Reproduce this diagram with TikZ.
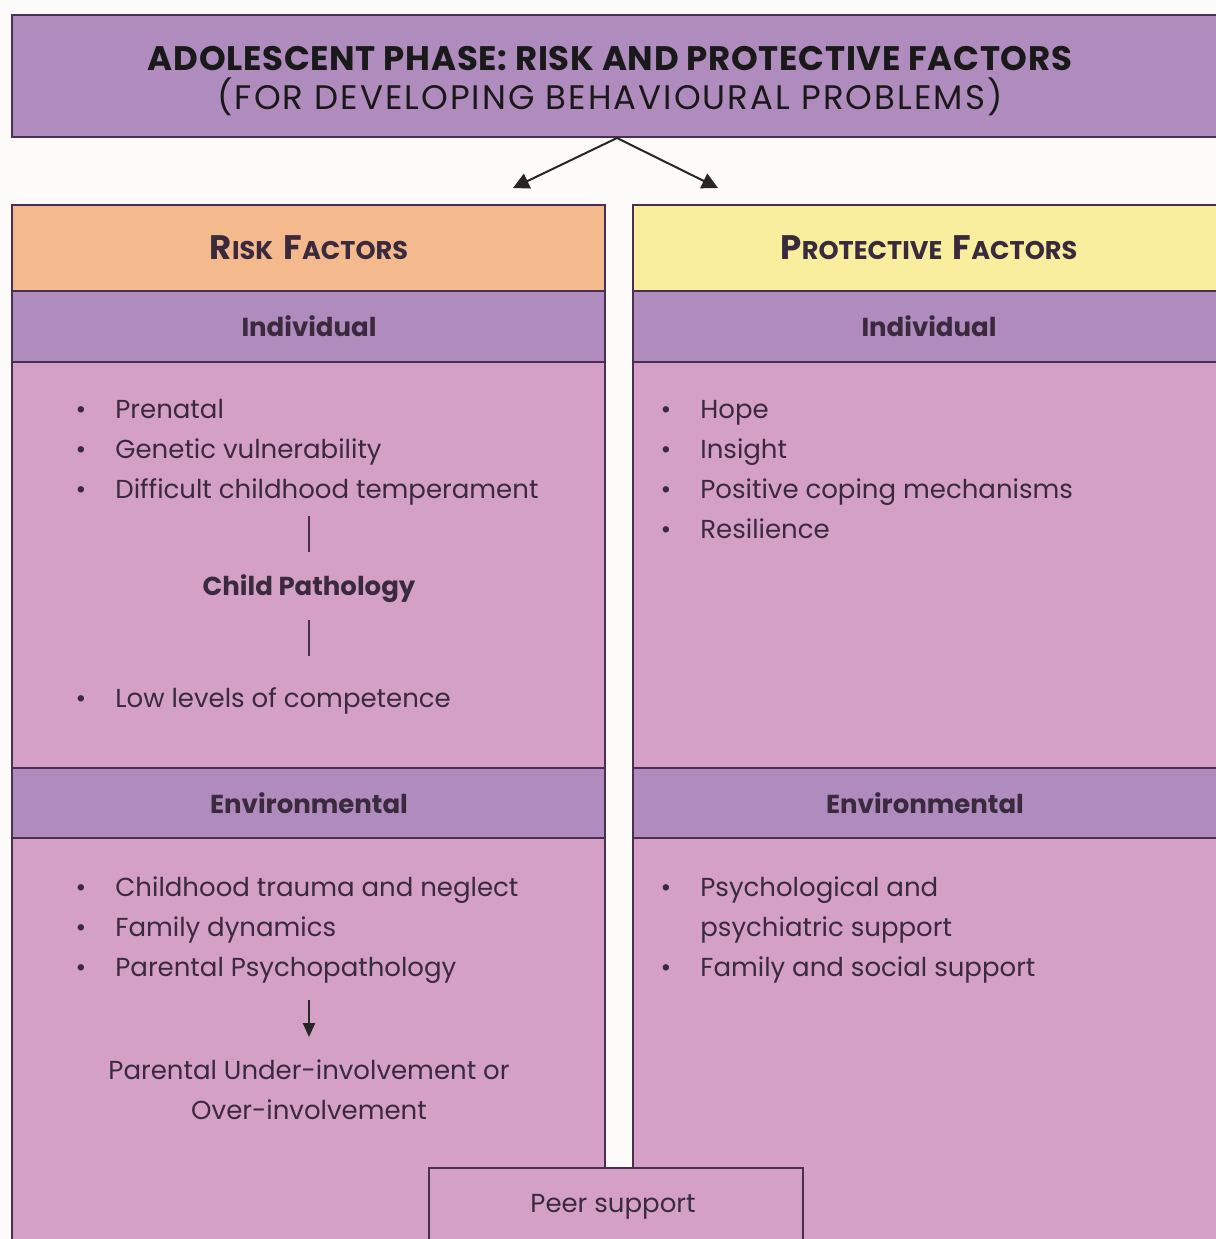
\documentclass[tikz,border=0pt]{standalone}
\usepackage{fontspec}
\setmainfont{Poppins}
\newfontfamily\titlefontA[LetterSpace=2]{Poppins}
\newfontfamily\titlefontB[LetterSpace=6]{Poppins}
\usetikzlibrary{fit,arrows.meta,calc}
\definecolor{bgc}{HTML}{FDFBF9}
\definecolor{purp}{HTML}{B08BBE}
\definecolor{pinkc}{HTML}{D4A0C6}
\definecolor{orangec}{HTML}{F5B98E}
\definecolor{yellowc}{HTML}{F8EE9E}
\definecolor{bordc}{HTML}{4A3050}
\definecolor{txtc}{HTML}{3A2A3E}
\newcommand{\body}{\fontsize{13}{20}\selectfont}
\newcommand{\fakesc}[2]{{\fontsize{17}{18}\selectfont #1}{\fontsize{12.8}{18}\selectfont #2}}
\tikzset{
  panel/.style={draw=bordc, line width=1pt, inner sep=0pt},
  band/.style={panel, fill=purp},
  content/.style={panel, fill=pinkc},
  bandtxt/.style={text=txtc, font=\fontsize{13}{14}\selectfont\bfseries, inner sep=0pt},
  headtxt/.style={text=txtc, font=\bfseries, inner sep=0pt},
  item/.style={text=txtc, font=\body, anchor=base west, inner sep=0pt},
  bul/.style={text=txtc, font=\fontsize{13}{14}\selectfont, anchor=base, inner sep=0pt},
  ctxt/.style={text=txtc, font=\body, align=center, inner sep=0pt},
  link/.style={draw=bordc, line width=1.2pt},
  tarrow/.style={draw=black!85, line width=1pt, -{Triangle[length=8pt,width=8pt]}},
  darrow/.style={draw=black!85, line width=1.2pt, -{Triangle[length=7pt,width=6pt]}}
}
\begin{document}
\begin{tikzpicture}[x=0.5pt,y=-0.5pt]
\useasboundingbox (0,0) rectangle (1216,1239);
\clip (0,0) rectangle (1216,1239);
\fill[bgc] (0,0) rectangle (1216,1239);

% title
\node[band, fit={(12,15)(1240,137)}] (title) {};
\node[text=black!90, align=center, inner sep=0pt, font=\fontsize{17}{19.5}\selectfont] (ttext) at (610,81)
  {{\titlefontA\bfseries ADOLESCENT PHASE: RISK AND PROTECTIVE FACTORS}\\
   {\titlefontB (FOR DEVELOPING BEHAVIOURAL PROBLEMS)}};

% left column
\node[panel, fill=orangec, fit={(12,205)(605,291)}] (riskh) {};
\node[band, fit={(12,291)(605,362)}] (lind) {};
\node[content, fit={(12,362)(605,768)}] (lindc) {};
\node[band, fit={(12,768)(605,838)}] (lenv) {};
\node[content, fit={(12,838)(605,1260)}] (lenvc) {};

% right column
\node[panel, fill=yellowc, fit={(633,205)(1240,291)}] (proth) {};
\node[band, fit={(633,291)(1240,362)}] (rind) {};
\node[content, fit={(633,362)(1240,768)}] (rindc) {};
\node[band, fit={(633,768)(1240,838)}] (renv) {};
\node[content, fit={(633,838)(1240,1260)}] (renvc) {};

% peer support
\node[content, fit={(429,1168)(803,1260)}] (peer) {};
\node[ctxt] (peert) at (613,1207) {Peer support};

% header texts
\node[headtxt] (risktxt) at (309,248) {\fakesc{R}{ISK}\hspace{3pt} \fakesc{F}{ACTORS}};
\node[headtxt] (prottxt) at (929,248) {\fakesc{P}{ROTECTIVE}\hspace{3pt} \fakesc{F}{ACTORS}};
\node[bandtxt] (lindt) at (309,326) {Individual};
\node[bandtxt] (rindt) at (929,326) {Individual};
\node[bandtxt] (lenvt) at (309,803) {Environmental};
\node[bandtxt] (renvt) at (925,803) {Environmental};

% title arrows
\coordinate (tsplit) at (617,138);
\coordinate (lend) at (513,188);
\coordinate (rend) at (718,188);
\draw[tarrow] (tsplit) -- (lend);
\draw[tarrow] (tsplit) -- (rend);

% left individual items
\foreach \n/\y/\t in {a1/418/Prenatal, a2/458/Genetic vulnerability, a3/498/Difficult childhood temperament, a4/707/Low levels of competence}{
  \node[bul] (b\n) at (81,\y) {\textbullet};
  \node[item] (\n) at (115,\y) {\t};
}
\node[ctxt, font=\body\bfseries] (cp) at (309,589) {Child Pathology};
\coordinate (l1a) at (309,516);
\coordinate (l1b) at (309,552);
\coordinate (l2a) at (309,620);
\coordinate (l2b) at (309,656);
\draw[link] (l1a) -- (l1b);
\draw[link] (l2a) -- (l2b);

% right individual items
\foreach \n/\y/\t in {c1/418/Hope, c2/458/Insight, c3/498/Positive coping mechanisms, c4/538/Resilience}{
  \node[bul] (b\n) at (666,\y) {\textbullet};
  \node[item] (\n) at (700,\y) {\t};
}

% left environmental items
\foreach \n/\y/\t in {e1/896/Childhood trauma and neglect, e2/936/Family dynamics, e3/976/Parental Psychopathology}{
  \node[bul] (b\n) at (81,\y) {\textbullet};
  \node[item] (\n) at (115,\y) {\t};
}
\node[ctxt] (pu) at (309,1090) {Parental Under-involvement or\\Over-involvement};
\coordinate (da) at (309,1000);
\coordinate (db) at (309,1037);
\draw[darrow] (da) -- (db);

% right environmental items
\node[bul] (bf1) at (666,896) {\textbullet};
\node[item] (f1) at (700,896) {Psychological and};
\node[item] (f1b) at (700,936) {psychiatric support};
\node[bul] (bf2) at (666,976) {\textbullet};
\node[item] (f2) at (700,976) {Family and social support};
\end{tikzpicture}
\end{document}
